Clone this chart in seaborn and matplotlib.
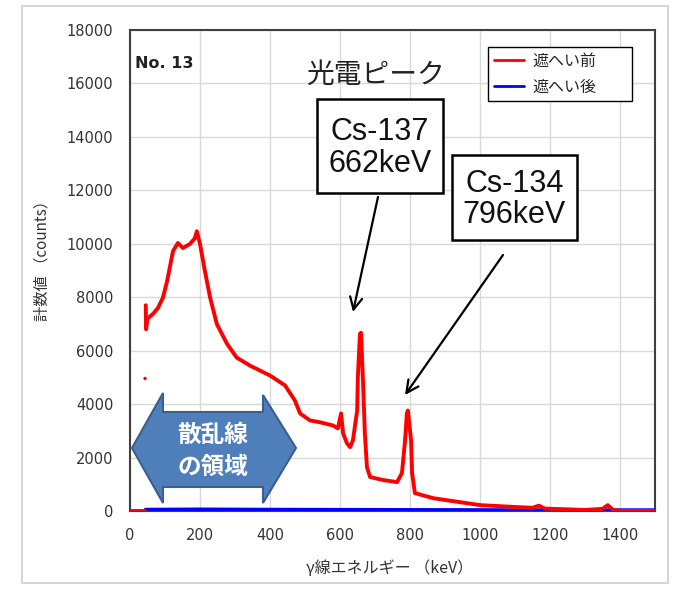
import matplotlib
matplotlib.use("Agg")
import matplotlib.pyplot as plt
import matplotlib.patches as mpatches
from matplotlib.lines import Line2D
import seaborn as sns
import pandas as pd

# ---------------- data ----------------
# before shielding (遮へい前): zero channels below ~43 keV
low_energy = [0, 10, 20, 30, 43]
low_counts = [0, 0, 0, 0, 0]
# main spectrum
energy_before = [45, 46, 50, 66, 80, 94, 106, 115, 123, 137, 151, 171, 185, 191, 200,
                 214, 229, 248, 277, 305, 343, 400, 443, 471, 486, 514, 543, 580, 594,
                 603, 609, 620, 629, 637, 649, 651, 657, 660, 666, 671, 677, 686, 723,
                 763, 777, 786, 791, 794, 803, 806, 814, 866, 1000, 1100, 1150, 1168,
                 1185, 1300, 1350, 1365, 1380, 1400, 1500]
counts_before = [7700, 6800, 7200, 7380, 7600, 7980, 8600, 9200, 9730, 10030, 9840, 9990,
                 10200, 10470, 9990, 8980, 7980, 7000, 6260, 5740, 5440, 5070, 4700, 4140,
                 3650, 3390, 3320, 3200, 3090, 3650, 2900, 2530, 2390, 2650, 3760, 5000,
                 6630, 6670, 4770, 2900, 1640, 1270, 1160, 1080, 1420, 2650, 3650, 3760,
                 2650, 1420, 670, 480, 220, 150, 120, 200, 90, 40, 80, 220, 40, 0, 0]
outlier_energy = [43]
outlier_counts = [4960]
# after shielding (遮へい後)
energy_after = [45, 200, 400, 600, 800, 1000, 1200, 1400, 1500]
counts_after = [30, 40, 30, 25, 20, 15, 10, 10, 10]

series_labels = ["遮へい前", "遮へい後"]
x_ticks = [0, 200, 400, 600, 800, 1000, 1200, 1400]
y_ticks = [0, 2000, 4000, 6000, 8000, 10000, 12000, 14000, 16000, 18000]

# ---------------- figure ----------------
sns.set_theme(style="white")
plt.rcParams["font.family"] = ["DejaVu Sans", "Noto Sans CJK JP"]
JP = ["Noto Sans CJK JP", "DejaVu Sans"]

W, H = 675, 591
fig = plt.figure(figsize=(W / 100, H / 100), dpi=100)


def fx(x):
    return x / W


def fy(y):
    return 1 - y / H


ax = fig.add_axes([fx(130), fy(511), (655 - 130) / W, (511 - 30) / H])

red_df = pd.DataFrame({
    "energy": low_energy + energy_before,
    "counts": low_counts + counts_before,
    "seg": ["low"] * len(low_energy) + ["main"] * len(energy_before),
})
blue_df = pd.DataFrame({"energy": energy_after, "counts": counts_after})

sns.lineplot(data=blue_df, x="energy", y="counts", color="#0000ff", lw=3.5,
             ax=ax, zorder=5, legend=False)
sns.lineplot(data=red_df, x="energy", y="counts", units="seg", estimator=None,
             sort=False, color="#ff0000", lw=2.8, ax=ax, zorder=6, legend=False)
sns.scatterplot(x=outlier_energy, y=outlier_counts, color="#ff0000", s=6,
                edgecolor="none", ax=ax, zorder=6)

ax.set_xlim(0, 1500)
ax.set_ylim(0, 18000)
ax.set_xticks(x_ticks)
ax.set_yticks(y_ticks)
ax.set_xticklabels([str(v) for v in x_ticks])
ax.set_yticklabels([str(v) for v in y_ticks])
ax.tick_params(axis="both", length=0, labelsize=10.5, labelcolor="#333333", pad=12)
ax.grid(True, color="#d9d9d9", lw=1)
ax.set_axisbelow(True)
for s in ax.spines.values():
    s.set_visible(True)
    s.set_color("#404040")
    s.set_linewidth(1.5)
ax.set_xlabel("")
ax.set_ylabel("")

fig.text(fx(42), fy(257), "計数値 （counts）", rotation=90, ha="center", va="center",
         fontsize=11, family=JP, color="#333333")
fig.text(fx(390), fy(568), "γ線エネルギー （keV）", ha="center", va="center",
         fontsize=11.5, family=JP, color="#333333")

# outer light frame
fig.patches.append(mpatches.Rectangle((fx(22), fy(583)), (668 - 22) / W, (583 - 6) / H,
                                      transform=fig.transFigure, fill=False,
                                      ec="#d6d6d6", lw=1.5))

# legend
handles = [Line2D([], [], color="#ff0000", lw=2),
           Line2D([], [], color="#0000ff", lw=2)]
leg = ax.legend(handles, series_labels, loc="upper left",
                bbox_to_anchor=(fx(488), fy(107), (632 - 488) / W, (107 - 47) / H),
                bbox_transform=fig.transFigure, mode="expand",
                prop={"family": JP, "size": 11.5}, frameon=True, fancybox=False,
                edgecolor="#000000", framealpha=1, borderpad=0.35,
                handlelength=1.9, handletextpad=0.55, labelspacing=0.55,
                borderaxespad=0)
leg.get_frame().set_linewidth(1)
leg.set_zorder(10)

# No. 13
fig.text(fx(135), fy(63), "No. 13", fontsize=11.5, weight="bold", ha="left", va="center",
         color="#222222")

# 光電ピーク
fig.text(fx(375), fy(75), "光電ピーク", fontsize=20, ha="center", va="center",
         family=JP, color="#222222")

# label boxes
for (x0, y0, x1, y1, txt) in [(317, 99, 443, 193, "Cs-137\n662keV"),
                              (452, 155, 577, 240, "Cs-134\n796keV")]:
    fig.patches.append(mpatches.Rectangle((fx(x0), fy(y1)), (x1 - x0) / W, (y1 - y0) / H,
                                          transform=fig.transFigure, fc="white",
                                          ec="black", lw=1.8, zorder=8))
    fig.text(fx((x0 + x1) / 2), fy((y0 + y1) / 2 + 2), txt, fontsize=22,
             family="Liberation Sans", ha="center", va="center", linespacing=1.05,
             color="#111111", zorder=9)

# arrows
for (tx, ty, hx, hy) in [(378, 197, 353, 312), (503, 255, 405, 395)]:
    ax.annotate("", xy=(fx(hx), fy(hy)), xytext=(fx(tx), fy(ty)),
                xycoords="figure fraction", textcoords="figure fraction",
                arrowprops=dict(arrowstyle="->", lw=1.6, color="black",
                                mutation_scale=22, shrinkA=0, shrinkB=0),
                zorder=9)

# scattered-radiation double arrow
pts = [(132, 448), (163, 393), (163, 412), (263, 412), (263, 395), (296, 448),
       (263, 503), (263, 487), (163, 487), (163, 503)]
poly = mpatches.Polygon([(fx(x), fy(y)) for x, y in pts], closed=True,
                        transform=fig.transFigure, fc="#4f7fbb", ec="#3a5f8e",
                        lw=1.5, zorder=4)
fig.patches.append(poly)
fig.text(fx(213), fy(451), "散乱線\nの領域", fontsize=17, weight="bold", family=JP,
         color="white", ha="center", va="center", linespacing=1.45, zorder=5)

fig.savefig("out.png", dpi=100)
